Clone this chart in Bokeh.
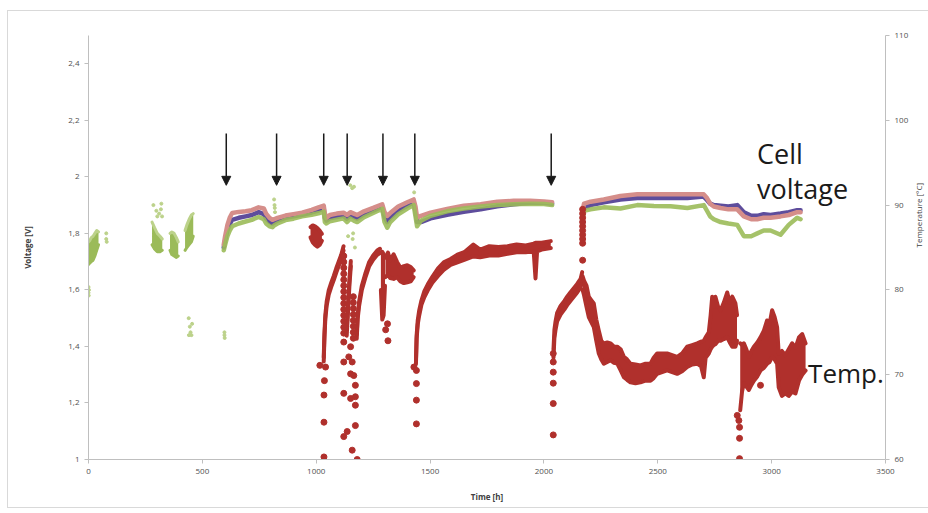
import math
import numpy as np
from bokeh.plotting import figure
from bokeh.models import (Range1d, LinearAxis, FixedTicker, Label, Arrow,
                          NormalHead, ColumnDataSource)
from bokeh.embed import file_html
from bokeh.resources import INLINE

# ---------------- axes ----------------
time_ticks = [0, 500, 1000, 1500, 2000, 2500, 3000, 3500]
volt_ticks = [1, 1.2, 1.4, 1.6, 1.8, 2, 2.2, 2.4]
volt_tick_labels = ["1", "1,2", "1,4", "1,6", "1,8", "2", "2,2", "2,4"]
temp_ticks = [60, 70, 80, 90, 100, 110]

# ---------------- cell voltage, three cells ----------------
v1_t = [594, 600, 610, 620, 631, 660, 690, 717, 747, 770, 780, 795, 808, 815, 830, 865, 900, 938, 980, 1010,
        1033, 1038, 1045, 1060, 1090, 1120, 1135, 1150, 1165, 1180, 1210, 1250, 1290, 1300, 1312, 1325, 1360,
        1400, 1428, 1436, 1443, 1460, 1502, 1575, 1648, 1722, 1795, 1867, 1940, 2000, 2036]
v1_red = [1.76, 1.79, 1.83, 1.855, 1.872, 1.876, 1.878, 1.882, 1.892, 1.888, 1.87, 1.855, 1.848, 1.85, 1.855,
          1.863, 1.868, 1.873, 1.883, 1.892, 1.898, 1.87, 1.855, 1.865, 1.87, 1.873, 1.865, 1.875, 1.87, 1.865,
          1.878, 1.89, 1.903, 1.875, 1.862, 1.872, 1.895, 1.91, 1.92, 1.895, 1.855, 1.862, 1.873, 1.886, 1.898,
          1.903, 1.912, 1.915, 1.915, 1.913, 1.91]
v1_purple = [1.75, 1.775, 1.81, 1.833, 1.848, 1.855, 1.86, 1.865, 1.875, 1.868, 1.852, 1.84, 1.835, 1.838,
             1.845, 1.855, 1.86, 1.866, 1.874, 1.881, 1.887, 1.855, 1.845, 1.853, 1.858, 1.862, 1.852, 1.863,
             1.857, 1.852, 1.867, 1.88, 1.895, 1.857, 1.84, 1.855, 1.88, 1.898, 1.91, 1.877, 1.84, 1.84, 1.853,
             1.866, 1.876, 1.885, 1.896, 1.903, 1.908, 1.908, 1.905]
v1_green = [1.74, 1.76, 1.79, 1.81, 1.825, 1.835, 1.842, 1.848, 1.858, 1.85, 1.835, 1.825, 1.822, 1.828, 1.835,
            1.847, 1.852, 1.86, 1.866, 1.871, 1.877, 1.84, 1.835, 1.843, 1.848, 1.853, 1.84, 1.852, 1.845, 1.84,
            1.857, 1.872, 1.887, 1.84, 1.82, 1.84, 1.867, 1.888, 1.9, 1.86, 1.825, 1.845, 1.862, 1.878, 1.888,
            1.895, 1.9, 1.903, 1.905, 1.904, 1.9]

v2_t = [2172, 2176, 2205, 2263, 2336, 2410, 2483, 2556, 2630, 2702, 2716, 2730, 2746, 2776, 2810, 2849, 2878,
        2910, 2937, 2965, 2995, 3039, 3075, 3112, 3127]
v2_red = [1.89, 1.905, 1.912, 1.92, 1.932, 1.938, 1.938, 1.938, 1.938, 1.938, 1.925, 1.905, 1.895, 1.89, 1.885,
          1.885, 1.86, 1.85, 1.85, 1.855, 1.855, 1.86, 1.865, 1.875, 1.875]
v2_purple = [1.88, 1.89, 1.9, 1.91, 1.92, 1.925, 1.925, 1.925, 1.925, 1.93, 1.918, 1.905, 1.9, 1.898, 1.895,
             1.9, 1.875, 1.862, 1.862, 1.868, 1.865, 1.87, 1.875, 1.882, 1.882]
v2_green = [1.86, 1.88, 1.885, 1.892, 1.888, 1.9, 1.897, 1.896, 1.89, 1.9, 1.88, 1.86, 1.85, 1.84, 1.835, 1.83,
            1.79, 1.79, 1.8, 1.81, 1.81, 1.795, 1.83, 1.855, 1.85]

# early measurement periods (voltage spread of the cells)
ec_seg = [0, 0, 0, 0, 0, 0, 0, 1, 1, 1, 1, 1, 2, 2, 2, 2, 2, 3, 3, 3, 3, 3]
ec_t = [0, 6, 12, 20, 28, 36, 44, 279, 290, 302, 314, 324, 358, 366, 376, 386, 394, 424, 432, 442, 452, 460]
ec_lo = [1.69, 1.695, 1.70, 1.705, 1.72, 1.74, 1.76, 1.76, 1.745, 1.735, 1.735, 1.74, 1.74, 1.725, 1.72, 1.715,
         1.72, 1.74, 1.75, 1.76, 1.77, 1.79]
ec_hi = [1.77, 1.775, 1.785, 1.79, 1.80, 1.81, 1.805, 1.84, 1.82, 1.80, 1.79, 1.78, 1.80, 1.805, 1.80, 1.785,
         1.77, 1.81, 1.83, 1.85, 1.865, 1.87]

# scattered single voltage readings
vp_t = [78, 78, 80, 0, 0, 1, 2, 285, 298, 302, 318, 320, 323, 310, 440, 445, 448, 452, 455, 441, 597, 598, 597,
        815, 817, 818, 819, 1150, 1158, 1166, 1140, 1160, 1170, 1162, 1430]
vp_v = [1.80, 1.78, 1.77, 1.61, 1.59, 1.58, 1.60, 1.90, 1.88, 1.86, 1.885, 1.905, 1.86, 1.87, 1.50, 1.47, 1.45,
        1.44, 1.48, 1.44, 1.45, 1.43, 1.44, 1.92, 1.90, 1.89, 1.875, 1.97, 1.96, 1.965, 1.79, 1.78, 1.75, 1.80,
        1.945]

# ---------------- temperature (band of dense readings) ----------------
ts_seg = ([0] * 6 + [1] * 11 + [2] * 4 + [3] * 9 + [4] * 4 + [5] * 10 + [6] * 26 + [7] * 12 + [8] * 48
          + [9] * 24)
ts_t = [975, 985, 995, 1005, 1015, 1025,
        1033, 1036, 1040, 1046, 1055, 1066, 1077, 1088, 1099, 1110, 1120,
        1134, 1140, 1146, 1152,
        1178, 1182, 1188, 1200, 1217, 1232, 1250, 1268, 1280,
        1284, 1290, 1296, 1302,
        1304, 1315, 1325, 1340, 1355, 1370, 1385, 1400, 1415, 1428,
        1438, 1441, 1446, 1452, 1462, 1475, 1490, 1510, 1535, 1560, 1590, 1620, 1650, 1690, 1720, 1760, 1800,
        1840, 1880, 1920, 1955, 1963, 1970, 1990, 2010, 2030,
        2042, 2046, 2051, 2058, 2073, 2090, 2102, 2116, 2131, 2146, 2161, 2168,
        2170, 2176, 2187, 2197, 2208, 2219, 2230, 2241, 2252, 2263, 2278, 2293, 2308, 2322, 2337, 2351, 2365,
        2380, 2402, 2424, 2446, 2468, 2482, 2497, 2519, 2541, 2563, 2585, 2607, 2629, 2651, 2673, 2690, 2702,
        2710, 2724, 2732, 2739, 2746, 2753, 2765, 2776, 2790, 2805, 2816, 2827, 2841, 2848,
        2862, 2870, 2878, 2889, 2900, 2911, 2922, 2937, 2951, 2966, 2980, 2991, 3002, 3013, 3024, 3031, 3045,
        3060, 3075, 3090, 3105, 3120, 3134, 3149]
ts_lo = [86.2, 85.6, 85.3, 85.1, 85.3, 85.8,
         71.55, 74.25, 76.55, 78.15, 79.45, 80.35, 81.15, 82.05, 82.85, 83.65, 84.65,
         74.6, 77.6, 80.6, 82.8,
         74.25, 76.55, 78.05, 79.95, 81.55, 82.75, 83.55, 84.15, 84.35,
         80.0, 76.5, 77.0, 80.5,
         81.5, 81.8, 81.4, 81.3, 81.5, 81.0, 80.8, 80.9, 81.0, 81.5,
         71.25, 74.25, 75.95, 76.95, 78.25, 79.15, 79.95, 80.85, 81.65, 82.35, 82.95, 83.25, 83.55, 83.95,
         83.85, 84.05, 84.05, 84.25, 84.45, 84.45, 84.55, 81.35, 84.55, 84.75, 84.85, 84.95,
         72.0, 74.3, 75.3, 76.3, 77.1, 77.7, 78.2, 78.7, 79.2, 79.7, 80.3, 81.1,
         80.0, 79.4, 78.0, 76.8, 76.2, 75.6, 74.0, 72.5, 71.8, 71.3, 71.5, 71.7, 71.4, 71.3, 70.5, 69.7, 69.4,
         69.1, 69.0, 69.1, 69.3, 69.3, 69.6, 70.1, 70.3, 70.5, 70.3, 70.1, 70.4, 70.9, 71.2, 71.3, 71.0, 69.7,
         72.0, 72.5, 73.0, 73.3, 73.5, 73.6, 74.0, 74.0, 74.2, 74.4, 73.8, 73.3, 73.3, 74.0,
         65.8, 68.0, 69.0, 68.6, 68.2, 68.8, 69.3, 69.8, 70.5, 70.8, 71.3, 71.5, 72.1, 71.8, 71.3, 68.5, 67.5,
         67.8, 67.5, 68.0, 67.8, 69.3, 70.0, 70.5]
ts_hi = [87.4, 87.6, 87.5, 87.3, 87.0, 86.6,
         72.05, 74.75, 77.05, 78.65, 79.95, 80.85, 81.65, 82.55, 83.35, 84.15, 85.15,
         75.4, 78.4, 81.4, 83.4,
         74.75, 77.05, 78.55, 80.45, 82.05, 83.25, 84.05, 84.65, 84.85,
         84.4, 84.5, 84.2, 84.0,
         83.8, 84.4, 83.5, 84.2, 83.3, 82.6, 82.8, 82.9, 82.7, 82.3,
         71.55, 74.65, 76.45, 77.55, 78.75, 79.85, 80.65, 81.55, 82.55, 83.25, 83.65, 84.15, 84.45, 85.35,
         84.75, 85.15, 85.05, 85.15, 85.35, 85.25, 85.45, 85.55, 85.55, 85.55, 85.65, 85.75,
         73.0, 75.3, 76.3, 77.3, 78.1, 78.7, 79.2, 79.7, 80.2, 80.7, 81.3, 82.1,
         81.6, 81.1, 80.5, 79.2, 78.8, 78.4, 76.5, 75.2, 74.0, 73.7, 73.8, 73.7, 73.3, 73.3, 73.0, 72.1, 71.8,
         71.3, 71.2, 71.1, 71.3, 71.3, 72.0, 72.5, 72.5, 72.5, 72.3, 72.1, 72.5, 73.3, 73.5, 73.7, 73.9, 74.0,
         74.4, 75.0, 77.0, 79.2, 78.0, 79.2, 78.0, 77.6, 78.5, 79.7, 78.5, 79.2, 78.4, 77.0,
         73.7, 73.5, 73.7, 73.0, 72.1, 72.8, 73.3, 73.8, 74.4, 75.2, 76.4, 76.0, 77.6, 76.8, 75.6, 72.5, 72.8,
         72.3, 73.0, 73.7, 73.2, 74.4, 74.8, 73.7]

# single temperature readings (cool-down events)
tp_t = [1016, 1041, 1036, 1034, 1034, 1034,
        1121, 1121, 1121, 1121, 1121, 1121, 1121, 1121, 1121, 1121, 1121, 1121, 1121, 1121,
        1121, 1121, 1121, 1121,
        1136, 1151, 1151, 1151, 1143, 1158, 1165, 1172, 1172, 1172, 1172, 1158, 1180,
        1163, 1163, 1163, 1163, 1163, 1163, 1163, 1163,
        1313, 1315, 1305,
        1429, 1440, 1440, 1440, 1440,
        2041, 2041, 2041, 2041, 2041, 2041,
        2170, 2170, 2170, 2170, 2170, 2170, 2170, 2170, 2170, 2170,
        2849, 2856, 2859, 2859, 2859, 2951]
tp_v = [71.1, 70.9, 69.3, 67.6, 64.4, 60.3,
        84.0, 83.3, 82.6, 81.9, 81.2, 80.5, 79.8, 79.1, 78.4, 77.7, 77.0, 76.3, 75.6, 74.9,
        73.85, 71.5, 67.8, 62.7,
        63.3, 73.3, 70.1, 67.2, 72.1, 71.5, 69.9, 68.75, 67.4, 66.4, 64.0, 61.1, 60.0,
        79.2, 78.5, 77.8, 77.1, 76.4, 75.7, 75.0, 74.3,
        76.0, 74.0, 75.3,
        70.9, 70.5, 68.95, 67.0, 64.2,
        72.5, 71.5, 70.3, 69.0, 66.6, 62.9,
        89.5, 89.0, 88.5, 88.0, 87.5, 87.0, 86.5, 86.0, 85.5, 83.5,
        65.2, 64.6, 63.8, 62.5, 60.1, 68.75]

# current-interruption events marked with arrows
arrow_t = [605, 826, 1033, 1136, 1293, 1433, 2032]
arrow_top = [2.153, 2.153, 2.153, 2.153, 2.153, 2.153, 2.153]
arrow_tip = [1.97, 1.97, 1.97, 1.97, 1.97, 1.97, 1.97]

# ---------------- colours ----------------
C_TEMP = "#b0302c"
C_RED = "#d58e8a"
C_PURPLE = "#5e4d9c"
C_GREEN = "#9bbb59"
C_GREEN_LIGHT = "#bcd28a"
AX = "#bfbfbf"
TXT = "#505050"
FONT = "Open Sans"

p = figure(frame_width=797, frame_height=424, min_border_left=80, min_border_right=43,
           min_border_top=24, min_border_bottom=48,
           x_range=Range1d(0, 3500), y_range=Range1d(1, 2.5),
           output_backend="svg", toolbar_location=None)
p.extra_y_ranges = {"temp": Range1d(60, 110)}
p.outline_line_color = None
p.grid.visible = False
p.background_fill_color = "white"
p.border_fill_color = "white"
p.margin = (10, 0, 0, 7)
p.styles = {"border": "1px solid #d9d9d9"}

# x axis
xa = p.xaxis[0]
xa.ticker = FixedTicker(ticks=time_ticks)
xa.axis_label = "Time [h]"
# left axis
ya = p.yaxis[0]
ya.ticker = FixedTicker(ticks=volt_ticks)
ya.major_label_overrides = dict(zip(volt_ticks, volt_tick_labels))
ya.axis_label = "Voltage [V]"
ya.axis_label_standoff = 32
# right axis
ra = LinearAxis(y_range_name="temp", ticker=FixedTicker(ticks=temp_ticks), axis_label="Temperature [°C]")
p.add_layout(ra, "right")
ra.axis_label_standoff = 7
try:
    ra.axis_label_orientation = math.pi / 2
except Exception:
    pass

for ax in (xa, ya, ra):
    ax.axis_line_color = AX
    ax.major_tick_line_color = AX
    ax.major_tick_out = 4
    ax.major_tick_in = 0
    ax.minor_tick_line_color = None
    ax.major_label_text_font = FONT
    ax.major_label_text_font_size = "8px"
    ax.major_label_text_color = TXT
    ax.axis_label_text_font = FONT
    ax.axis_label_text_font_size = "8px"
    ax.axis_label_text_color = "#404040"
    ax.axis_label_text_font_style = "bold"
    ax.major_label_standoff = 5
xa.axis_label_standoff = 14
ra.axis_label_text_font_style = "normal"

# ---- early voltage clusters ----
ec_seg_a = np.array(ec_seg)
for s in np.unique(ec_seg_a):
    m = ec_seg_a == s
    tt = np.array(ec_t)[m]
    lo = np.array(ec_lo)[m]
    hi = np.array(ec_hi)[m]
    p.varea(x=tt, y1=lo, y2=hi, fill_color=C_GREEN)
    p.line(tt, hi, line_color=C_GREEN_LIGHT, line_width=3, line_join="round", line_cap="round")
    p.line(tt, lo, line_color=C_GREEN, line_width=3, line_join="round", line_cap="round")

p.scatter(vp_t, vp_v, size=3, color=C_GREEN_LIGHT)

# ---- main voltage traces ----
for tt, r, pu, g in ((v1_t, v1_red, v1_purple, v1_green), (v2_t, v2_red, v2_purple, v2_green)):
    p.line(tt, pu, line_color=C_PURPLE, line_width=4.5, line_join="round", line_cap="round")
    p.line(tt, r, line_color=C_RED, line_width=4.5, line_join="round", line_cap="round")
    p.line(tt, g, line_color=C_GREEN, line_width=4.5, line_join="round", line_cap="round", line_alpha=0.9)

# ---- temperature ----
ts_seg_a = np.array(ts_seg)
for s in np.unique(ts_seg_a):
    m = ts_seg_a == s
    tt = np.array(ts_t)[m]
    lo = np.array(ts_lo)[m]
    hi = np.array(ts_hi)[m]
    p.varea(x=tt, y1=lo, y2=hi, fill_color=C_TEMP, y_range_name="temp")
    for yy in (lo, hi):
        p.line(tt, yy, line_color=C_TEMP, line_width=4, line_join="round", line_cap="round",
               y_range_name="temp")
p.scatter(tp_t, tp_v, size=6, color=C_TEMP, y_range_name="temp")

# ---- arrows ----
asrc = ColumnDataSource(dict(t=arrow_t, top=arrow_top, tip=arrow_tip))
p.add_layout(Arrow(x_start="t", y_start="top", x_end="t", y_end="tip", source=asrc,
                   line_color="#1a1a1a", line_width=1.5,
                   end=NormalHead(size=9, fill_color="#1a1a1a", line_color="#1a1a1a")))

# ---- annotations ----
for txt, x, y, fs in (("Cell", 2936, 2.082, "27px"), ("voltage", 2936, 1.959, "27px"),
                      ("Temp.", 3160, 1.305, "26px")):
    p.add_layout(Label(x=x, y=y, text=txt, text_font=FONT, text_font_size=fs,
                       text_color="#1a1a1a", text_baseline="alphabetic"))

open("out.html", "w").write(file_html(p, INLINE))
